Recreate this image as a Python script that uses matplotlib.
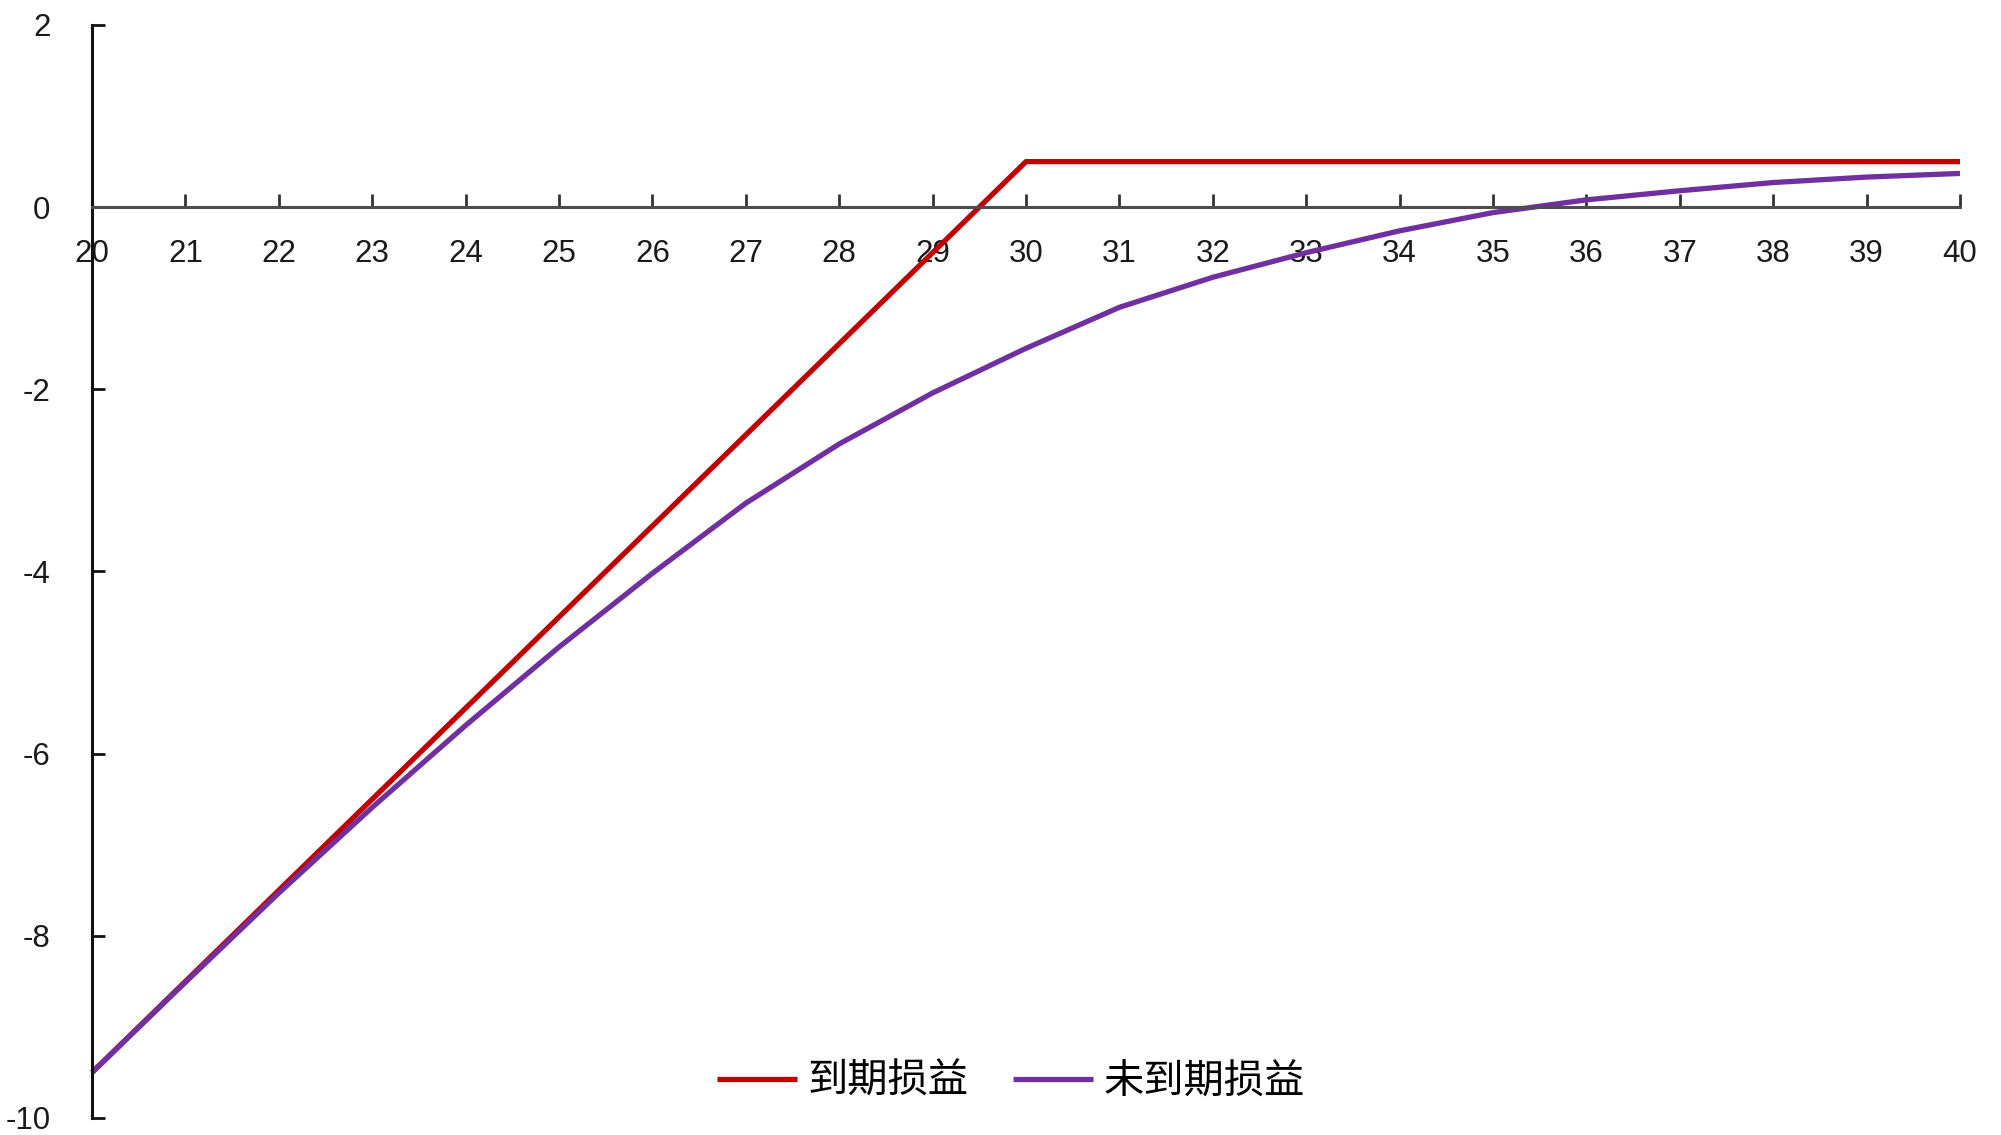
import matplotlib
matplotlib.use("Agg")
import matplotlib.pyplot as plt
from matplotlib.font_manager import FontProperties

# Data
prices = list(range(20, 41))
expiry_pnl = [-9.5, -8.5, -7.5, -6.5, -5.5, -4.5, -3.5, -2.5, -1.5, -0.5,
              0.5, 0.5, 0.5, 0.5, 0.5, 0.5, 0.5, 0.5, 0.5, 0.5, 0.5]
before_expiry_pnl = [-9.5, -8.51, -7.53, -6.59, -5.69, -4.83, -4.02, -3.25,
                     -2.6, -2.04, -1.55, -1.1, -0.77, -0.5, -0.26, -0.06,
                     0.08, 0.18, 0.27, 0.33, 0.37]
y_ticks = [2, 0, -2, -4, -6, -8, -10]
labels = ["到期损益", "未到期损益"]

plt.rcParams['font.family'] = ['Liberation Sans', 'Noto Sans CJK SC', 'DejaVu Sans']
plt.rcParams['axes.unicode_minus'] = False

fig = plt.figure(figsize=(20.01, 11.35), dpi=100)
ax = fig.add_axes([0.046, 0.015, 0.9335, 0.963])

red, = ax.plot(prices, expiry_pnl, color='#C00000', lw=3.8, clip_on=False,
               solid_capstyle='butt', label=labels[0])
purple, = ax.plot(prices, before_expiry_pnl, color='#7030A0', lw=3.8, clip_on=False,
                  solid_capstyle='butt', label=labels[1])

ax.set_xlim(20, 40)
ax.set_ylim(-10, 2)
ax.set_xticks(prices)
ax.set_yticks(y_ticks)

# axes look like an Excel chart: x axis on zero, ticks pointing in
ax.spines['top'].set_visible(False)
ax.spines['right'].set_visible(False)
ax.spines['bottom'].set_position(('data', 0))
ax.spines['bottom'].set_color('#4d4d4d')
ax.spines['bottom'].set_linewidth(2.2)
ax.spines['left'].set_color('#111111')
ax.spines['left'].set_linewidth(2.2)

ax.tick_params(axis='x', direction='in', length=9.5, width=2, colors='#333333',
               labelcolor='#1a1a1a', labelsize=22.5, pad=23)
ax.tick_params(axis='y', direction='in', length=9.5, width=2, colors='#111111',
               labelcolor='#1a1a1a', labelsize=22.5, pad=30)

cjk = FontProperties(family=['Noto Sans CJK SC', 'DejaVu Sans'], size=29)
fig.legend(handles=[red, purple], labels=labels, loc='center',
           bbox_to_anchor=(0.505, 0.047), ncol=2, frameon=False, prop=cjk,
           handlelength=2.0, handletextpad=0.25, columnspacing=1.1)

fig.savefig('out.png', dpi=100)
